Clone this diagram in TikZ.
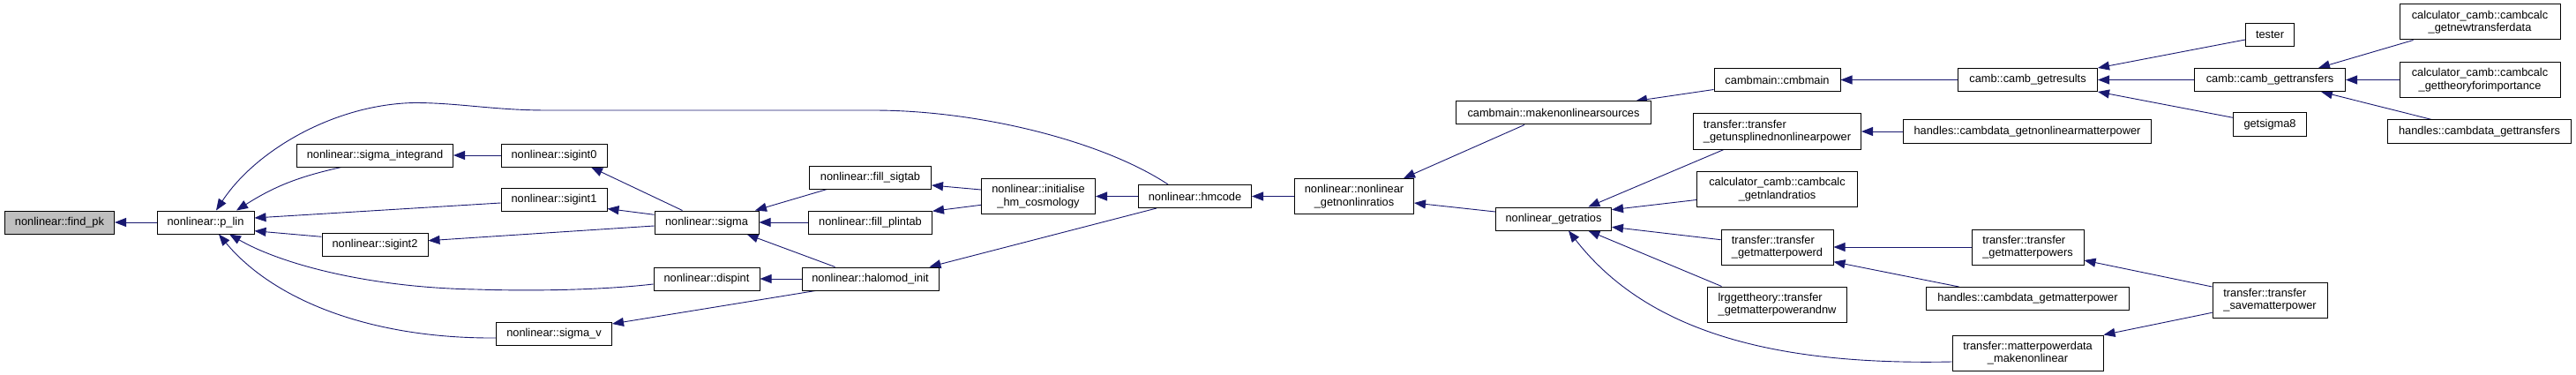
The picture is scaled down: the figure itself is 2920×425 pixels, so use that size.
\documentclass[tikz,border=0pt]{standalone}
\usepackage{fontspec}
\setmainfont{Liberation Sans}
\usetikzlibrary{arrows.meta,calc,backgrounds}
\definecolor{edgeblue}{RGB}{25,25,112}
\definecolor{rootgray}{RGB}{191,191,191}
\newcommand\nodefont{\fontsize{12.8pt}{14.5pt}\selectfont}
\tikzset{
  nd/.style={draw=black, line width=1pt, fill=white, inner sep=0pt, font=\nodefont, align=center, minimum height=26pt},
  nd2/.style={nd, minimum height=40pt},
  nd2l/.style={nd2, align=left},
  root/.style={nd, fill=rootgray},
  call/.style={draw=edgeblue, line width=0.9pt, -{Triangle[length=13pt,width=10pt,fill=edgeblue]}}
}
\begin{document}
\begin{tikzpicture}[x=1pt,y=-1pt]
\useasboundingbox (0,0) rectangle (2920,425);
% nodes
\node[root, minimum width=124pt] (findpk) at (67.5,252) {nonlinear::find\_pk};
\node[nd, minimum width=110pt] (plin) at (233,252) {nonlinear::p\_lin};
\node[nd, minimum width=177pt] (sigint) at (425,176) {nonlinear::sigma\_integrand};
\node[nd, minimum width=120pt] (sigint0) at (628,176) {nonlinear::sigint0};
\node[nd, minimum width=120pt] (sigint1) at (628,226.5) {nonlinear::sigint1};
\node[nd, minimum width=120pt] (sigint2) at (425,277) {nonlinear::sigint2};
\node[nd, minimum width=131pt] (sigmav) at (628,378) {nonlinear::sigma\_v};
\node[nd, minimum width=118pt] (sigma) at (801,252) {nonlinear::sigma};
\node[nd, minimum width=138pt] (fillsigtab) at (986.5,201) {nonlinear::fill\_sigtab};
\node[nd, minimum width=140pt] (fillplintab) at (986.5,252) {nonlinear::fill\_plintab};
\node[nd2, minimum width=129pt] (init) at (1177,222.5) {nonlinear::initialise\\\_hm\_cosmology};
\node[nd, minimum width=128pt] (hmcode) at (1354.5,222.5) {nonlinear::hmcode};
\node[nd, minimum width=120pt] (dispint) at (801,316) {nonlinear::dispint};
\node[nd, minimum width=155pt] (halomod) at (986.5,316) {nonlinear::halomod\_init};
\node[nd2, minimum width=135pt] (getnonlin) at (1535,222.5) {nonlinear::nonlinear\\\_getnonlinratios};
\node[nd, minimum width=221pt] (makenl) at (1761,128) {cambmain::makenonlinearsources};
\node[nd, minimum width=131pt] (getratios) at (1761,248) {nonlinear\_getratios};
\node[nd, minimum width=143pt] (cmbmain) at (2014.5,90.5) {cambmain::cmbmain};
\node[nd2l, minimum width=190pt] (unspl) at (2014.5,149) {transfer::transfer\\\_getunsplinednonlinearpower};
\node[nd2, minimum width=182pt] (nlandr) at (2014.5,214.5) {calculator\_camb::cambcalc\\\_getnlandratios};
\node[nd2l, minimum width=127pt] (gmpd) at (2014.5,280) {transfer::transfer\\\_getmatterpowerd};
\node[nd2l, minimum width=158pt] (lrg) at (2014.5,345) {lrggettheory::transfer\\\_getmatterpowerandnw};
\node[nd, minimum width=158pt] (getresults) at (2298.5,90.5) {camb::camb\_getresults};
\node[nd, minimum width=281pt] (hgnlmp) at (2298,149) {handles::cambdata\_getnonlinearmatterpower};
\node[nd, minimum width=55pt] (tester) at (2573,39.7) {tester};
\node[nd, minimum width=171pt] (gettransfers) at (2573,90.5) {camb::camb\_gettransfers};
\node[nd, minimum width=83pt] (getsigma8) at (2573,141) {getsigma8};
\node[nd2, minimum width=182pt] (newtd) at (2811,25) {calculator\_camb::cambcalc\\\_getnewtransferdata};
\node[nd2, minimum width=182pt] (theory) at (2811,90.5) {calculator\_camb::cambcalc\\\_gettheoryforimportance};
\node[nd, minimum width=208pt] (hgt) at (2810.5,149) {handles::cambdata\_gettransfers};
\node[nd2l, minimum width=127pt] (gmps) at (2298.5,280) {transfer::transfer\\\_getmatterpowers};
\node[nd, minimum width=230pt] (hgmp) at (2298.5,338.5) {handles::cambdata\_getmatterpower};
\node[nd2l, minimum width=130pt] (savemp) at (2573,340) {transfer::transfer\\\_savematterpower};
\node[nd2, minimum width=171pt] (mpdnl) at (2298.5,400) {transfer::matterpowerdata\\\_makenonlinear};
% edges
\begin{pgfonlayer}{background}
\draw[call] (plin.west) -- (findpk.east);
\draw[call] ($(sigint.south)+(-38,0)$) to[bend right=10] ($(plin.north)+(35,0)$);
\draw[call] ($(sigint1.west)+(0,3.5)$) -- ($(plin.east)+(0,-5)$);
\draw[call] ($(sigint2.west)+(0,-8.7)$) -- ($(plin.east)+(0,9.7)$);
\draw[call] ($(hmcode.north)+(-30.5,0)$) .. controls (1250,160) and (1110,125) .. (990,125) -- (620,125) .. controls (560,125) and (520,116.5) .. (470,116.5) .. controls (380,118) and (290,170) .. ($(plin.north)+(12,0)$);
\draw[call] ($(dispint.west)+(0,6)$) .. controls (680,329) and (600,330) .. (540,328) .. controls (420,326) and (320,300) .. ($(plin.south)+(27,0)$);
\draw[call] ($(sigmav.west)+(0,5)$) .. controls (420,384) and (310,340) .. ($(plin.south)+(15,0)$);
\draw[call] (sigint0.west) -- (sigint.east);
\draw[call] ($(sigma.north)+(-27.5,0)$) -- ($(sigint0.south)+(42,0)$);
\draw[call] ($(sigma.west)+(0,-8.7)$) -- ($(sigint1.east)+(0,10)$);
\draw[call] ($(sigma.west)+(0,4)$) -- ($(sigint2.east)+(0,-4.3)$);
\draw[call] ($(fillsigtab.south)+(-49,0)$) -- ($(sigma.north)+(55,0)$);
\draw[call] (fillplintab.west) -- (sigma.east);
\draw[call] ($(halomod.north)+(-40,0)$) -- ($(sigma.south)+(45.6,0)$);
\draw[call] (halomod.west) -- (dispint.east);
\draw[call] ($(halomod.south)+(-62,0)$) -- ($(sigmav.east)+(0,-11)$);
\draw[call] ($(init.west)+(0,-7.5)$) -- ($(fillsigtab.east)+(0,9)$);
\draw[call] ($(init.west)+(0,9.8)$) -- ($(fillplintab.east)+(0,-12.7)$);
\draw[call] (hmcode.west) -- (init.east);
\draw[call] ($(hmcode.south)+(-43.5,0)$) -- ($(halomod.north)+(67,0)$);
\draw[call] (getnonlin.west) -- (hmcode.east);
\draw[call] ($(makenl.south)+(-33,0)$) -- ($(getnonlin.north)+(56,0)$);
\draw[call] ($(getratios.west)+(0,-8)$) -- ($(getnonlin.east)+(0,7.5)$);
\draw[call] ($(cmbmain.west)+(0,11)$) -- ($(makenl.north)+(93,0)$);
\draw[call] (getresults.west) -- (cmbmain.east);
\draw[call] ($(unspl.south)+(-60.5,0)$) -- ($(getratios.north)+(39.4,0)$);
\draw[call] ($(nlandr.west)+(0,12)$) -- ($(getratios.east)+(0,-10.3)$);
\draw[call] ($(gmpd.west)+(0,-8.3)$) -- ($(getratios.east)+(0,9.3)$);
\draw[call] ($(lrg.north)+(-63,0)$) -- ($(getratios.south)+(39.4,0)$);
\draw[call] ($(mpdnl.west)+(0,10)$) .. controls (2020,414) and (1870,380) .. ($(getratios.south)+(17,0)$);
\draw[call] (hgnlmp.west) -- (unspl.east);
\draw[call] (gmps.west) -- (gmpd.east);
\draw[call] ($(hgmp.north)+(-78,0)$) -- ($(gmpd.east)+(0,16.7)$);
\draw[call] ($(tester.west)+(0,5.3)$) -- (getresults.north east);
\draw[call] (gettransfers.west) -- (getresults.east);
\draw[call] ($(getsigma8.west)+(0,-7.7)$) -- (getresults.south east);
\draw[call] ($(newtd.south)+(-75.5,0)$) -- ($(gettransfers.north)+(55,0)$);
\draw[call] (theory.west) -- (gettransfers.east);
\draw[call] ($(hgt.north)+(-54,0)$) -- ($(gettransfers.south)+(58,0)$);
\draw[call] ($(savemp.west)+(0,-15)$) -- ($(gmps.east)+(0,15)$);
\draw[call] ($(savemp.west)+(0,14.3)$) -- (mpdnl.north east);
\end{pgfonlayer}
\end{tikzpicture}
\end{document}
